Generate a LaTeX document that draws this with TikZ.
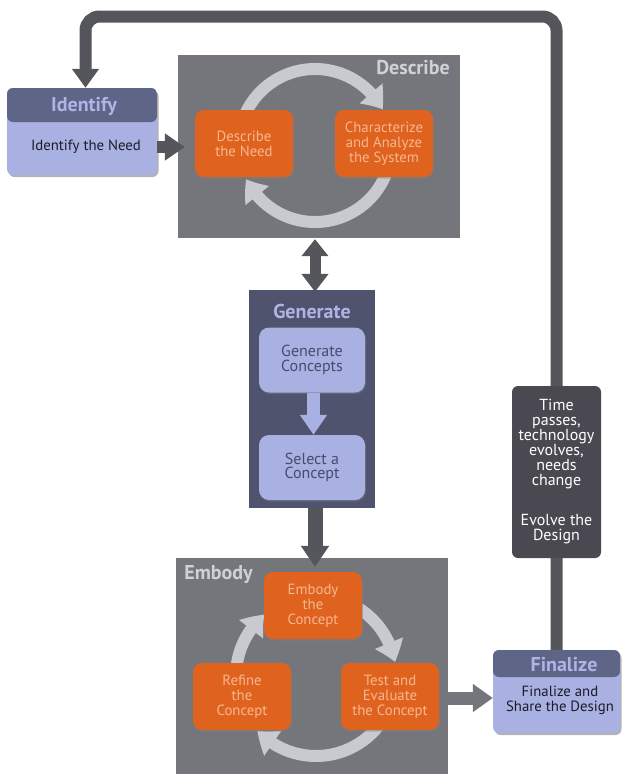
\documentclass[tikz,border=0pt]{standalone}
\usepackage{fontspec}
\setmainfont{PT Sans}
\usetikzlibrary{arrows.meta,shadows,bending}
\definecolor{linedark}{HTML}{55555C}
\definecolor{panelgray}{HTML}{75767C}
\definecolor{genpanel}{HTML}{4F536E}
\definecolor{evolvecol}{HTML}{4A4951}
\definecolor{lav}{HTML}{A9B0E2}
\definecolor{hdrcol}{HTML}{5E6587}
\definecolor{hdrtext}{HTML}{AEB4E6}
\definecolor{orangecol}{HTML}{E0621F}
\definecolor{orangetext}{HTML}{F6B78F}
\definecolor{arccol}{HTML}{C8CACF}
\definecolor{paneltext}{HTML}{D0D1D6}
\definecolor{gentext}{HTML}{474C6D}
\definecolor{darktext}{HTML}{1C1C28}
\begin{document}
\begin{tikzpicture}[x=1pt,y=-1pt,
  bodyfont/.style={font=\fontsize{14.8}{15}\selectfont},
  titlefont/.style={font=\fontsize{20}{22}\selectfont\bfseries},
  panel/.style={fill=panelgray, inner sep=0pt},
  paneltitle/.style={titlefont, text=paneltext, inner sep=0pt},
  orangebox/.style={fill=orangecol, rounded corners=9pt, minimum width=98pt, minimum height=67pt,
    text=orangetext, align=center, bodyfont, inner sep=0pt,
    drop shadow={shadow xshift=1pt, shadow yshift=-1.5pt, opacity=0.45}},
  genbox/.style={fill=lav, rounded corners=10pt, minimum width=106pt, minimum height=65pt,
    text=gentext, align=center, font=\fontsize{16}{14.5}\selectfont, inner sep=0pt,
    drop shadow={shadow xshift=1pt, shadow yshift=-1.5pt, opacity=0.4}},
  lavbox/.style={fill=lav, rounded corners=6pt, inner sep=0pt,
    drop shadow={shadow xshift=1.5pt, shadow yshift=-2pt, opacity=0.6}},
  hdr/.style={path picture={\fill[hdrcol] (path picture bounding box.north west) rectangle ([yshift=-#1]path picture bounding box.north east);}},
  hdrtitle/.style={titlefont, text=hdrtext, inner sep=0pt},
  bodytext/.style={bodyfont, text=darktext, align=center, inner sep=0pt},
  evolvebox/.style={fill=evolvecol, rounded corners=6pt, text=white, align=center,
    font=\fontsize{16}{15}\selectfont, inner sep=0pt},
  darkarrow/.style={draw=linedark, line width=12pt, -{Triangle[length=20pt,width=26pt]}},
  greyarrow/.style={draw=panelgray, line width=13pt, -{Triangle[length=20pt,width=27pt]}},
  lavarrow/.style={draw=lav, line width=13pt, -{Triangle[length=20pt,width=26pt]}},
  arcarrow/.style={draw=arccol, line width=12pt, -{Triangle[length=20pt,width=29pt,bend]}},
  looppath/.style={draw=linedark, line width=12pt, rounded corners=14pt, -{Triangle[length=19pt,width=26pt]}}
]
\useasboundingbox (0,0) rectangle (623,774);

% ---- panels
\node[panel, minimum width=282pt, minimum height=183pt] (desc) at (319,146.5) {};
\node[paneltitle] (desctitle) at (413,68) {Describe};
\node[panel, minimum width=272pt, minimum height=216pt] (emb) at (312,666) {};
\node[paneltitle] (embtitle) at (218.5,575) {Embody};
\node[fill=genpanel, inner sep=0pt, minimum width=126pt, minimum height=218pt] (gen) at (312,399) {};
\node[titlefont, text=hdrtext, inner sep=0pt] (gentitle) at (312,311) {Generate};

% ---- describe cycle
\coordinate (dc) at (315,145.5);
\draw[arcarrow] ([shift={(160:76.5pt)}]dc) arc[start angle=160, end angle=28, radius=76.5pt];
\draw[arcarrow] ([shift={(-20:76.5pt)}]dc) arc[start angle=-20, end angle=-154, radius=76.5pt];
\node[orangebox] (dneed) at (244,143.5) {Describe\\the Need};
\node[orangebox] (char) at (384,143.5) {Characterize\\and Analyze\\the System};

% ---- embody cycle
\coordinate (ec) at (316,676);
\draw[arcarrow] ([shift={(185:80pt)}]ec) arc[start angle=185, end angle=130, radius=80pt];
\draw[arcarrow] ([shift={(65:80pt)}]ec) arc[start angle=65, end angle=10, radius=80pt];
\draw[arcarrow] ([shift={(-35:80pt)}]ec) arc[start angle=-35, end angle=-137, radius=80pt];
\node[orangebox] (ebc) at (313,605.5) {Embody\\the\\Concept};
\node[orangebox] (ref) at (242,696.5) {Refine\\the\\Concept};
\node[orangebox] (test) at (390,696.5) {Test and\\Evaluate\\the Concept};

% ---- generate
\node[genbox] (gc) at (312,360) {Generate\\Concepts};
\node[genbox] (sc) at (312,467.5) {Select a\\Concept};
\draw[lavarrow] ([xshift=1.5pt]gc.south) -- ([xshift=1.5pt]sc.north);

% ---- identify
\node[lavbox, hdr=34pt, minimum width=150pt, minimum height=87pt] (id) at (82,131.5) {};
\node[hdrtitle] (idtitle) at (84,106.5) {Identify};
\node[bodytext] (idtext) at (86,147) {Identify the Need};

% ---- finalize and evolve
\coordinate (top) at (0,16.5);
\node[lavbox, hdr=27pt, minimum width=127pt, minimum height=83pt] (fin) at (556.5,691.5) {};
\coordinate (idx) at ([xshift=3.5pt]id.north);
\draw[looppath] (fin.north) -- (fin.north |- top) -- (idx |- top) -- (idx);
\node[hdrtitle] (fintitle) at (564,665) {Finalize};
\node[bodytext] (fintext) at (560,700.5) {Finalize and\\Share the Design};
\node[evolvebox, minimum width=89pt, minimum height=172pt] (evo) at (556.5,472)
  {Time\\passes,\\technology\\evolves,\\needs\\change\\[25pt]Evolve the\\Design};

% ---- connectors between stages
\coordinate (ia) at ([yshift=-15.5pt]id.east);
\coordinate (ib) at (ia -| desc.west);
\draw[darkarrow] (ia) -- ([xshift=7pt]ib);

\coordinate (da) at ([xshift=3pt]gen.north);
\coordinate (db) at (da |- desc.south);
\draw[draw=linedark, line width=11pt, {Triangle[length=17pt,width=26pt]}-{Triangle[length=18pt,width=26pt]}] ([yshift=-1pt]db) -- ([yshift=-2pt]da);

\coordinate (ea) at ([xshift=3pt]gen.south);
\coordinate (eb) at (ea |- emb.north);
\draw[draw=linedark, line width=15pt, -{Triangle[length=21pt,width=27pt]}] (ea) -- ([yshift=-9pt]eb);

\coordinate (fa) at ([yshift=-6.5pt]fin.west);
\draw[greyarrow] (fa -| emb.east) -- (fa);
\end{tikzpicture}
\end{document}
